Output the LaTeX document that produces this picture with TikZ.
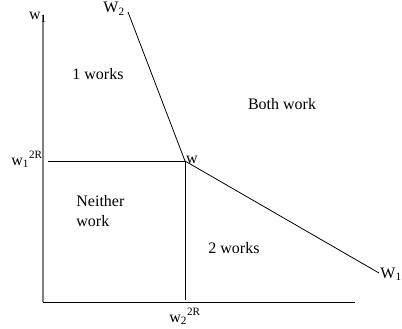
\documentclass[tikz,border=0pt]{standalone}
\usepackage{fontspec}
\setmainfont{Liberation Serif}
\begin{document}
\begin{tikzpicture}[x=1pt, y=-1pt, font=\fontsize{16}{20}\selectfont, line width=0.8pt,
	lbl/.style={inner sep=0pt, anchor=base}]
	\useasboundingbox (0,0) rectangle (402,329);
	% --- Points ---
	\coordinate (O) at (43,302);
	\coordinate (Ytop) at (43,15);
	\coordinate (Xend) at (355,302);
	\coordinate (w) at (185,161);
	\coordinate (Wtwo) at (128,12);
	\coordinate (Wone) at (379,273);
	\coordinate (Hstart) at (48,161);
	\coordinate (Vend) at (185,300);
	% --- Axes ---
	\draw[gray, line width=1.2pt] (Ytop) -- (O);
	\draw (O) -- (Xend);
	% --- Reservation wages and frontier ---
	\draw (Hstart) -- (w) -- (Vend);
	\draw (Wtwo) -- (w) -- (Wone);
	% --- Labels ---
	\node[lbl] (ylab) at (38,20) {w\textsubscript{1}};
	\node[lbl] (Wtwolab) at (114,13) {W\textsubscript{2}};
	\node[lbl] (rone) at (27,165) {w\textsubscript{1}\textsuperscript{2R}};
	\node[lbl] (wlab) at (192,164) {w};
	\node[lbl] (rtwo) at (185,322) {w\textsubscript{2}\textsuperscript{2R}};
	\node[lbl] (Wonelab) at (391,278) {W\textsubscript{1}};
	\node[lbl] (onew) at (98,80) {1 works};
	\node[lbl] (both) at (282,110) {Both work};
	\node[lbl] (twow) at (234,253) {2 works};
	\node[lbl, anchor=north west, align=left] (neither) at (76,195) {Neither\\work};
\end{tikzpicture}
\end{document}
